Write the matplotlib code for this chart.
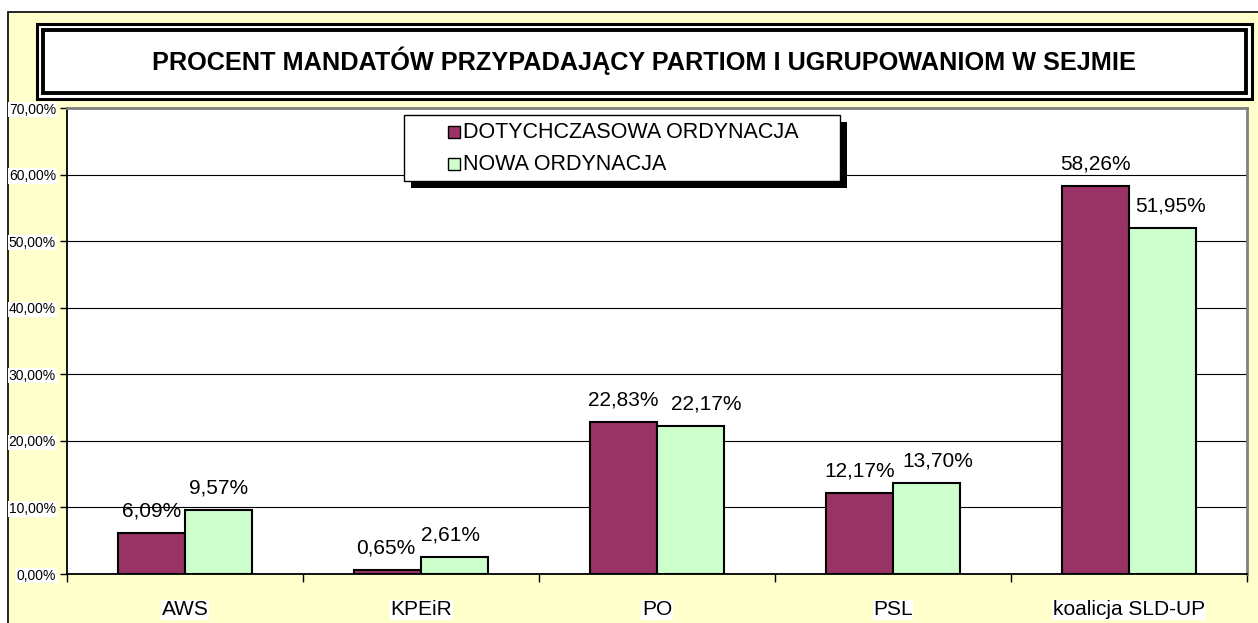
import matplotlib
matplotlib.use("Agg")
import matplotlib.pyplot as plt
from matplotlib.patches import Rectangle
from matplotlib.ticker import FuncFormatter, FixedLocator
import numpy as np

plt.rcParams['font.family'] = ['Liberation Sans', 'DejaVu Sans']

categories = ["AWS", "KPEiR", "PO", "PSL", "koalicja SLD-UP"]
series_names = ["DOTYCHCZASOWA ORDYNACJA", "NOWA ORDYNACJA"]
old_values = [6.09, 0.65, 22.83, 12.17, 58.26]
new_values = [9.57, 2.61, 22.17, 13.70, 51.95]
title = "PROCENT MANDATÓW PRZYPADAJĄCY PARTIOM I UGRUPOWANIOM W SEJMIE"

# horizontal nudges (pixels) of the value labels, as placed in the original
old_label_dx = [0, -2, 0, 0, 0]
new_label_dx = [0, -4, 16, 11, 8]

W, H = 1258, 623
fig = plt.figure(figsize=(W / 100, H / 100), dpi=100)
fig.patch.set_facecolor("white")

def fx(px):
    return px / W

def fy(py):
    return 1 - py / H

def frect(x0, y0, x1, y1, **kw):
    return Rectangle((fx(x0), fy(y1)), fx(x1) - fx(x0), fy(y0) - fy(y1),
                     transform=fig.transFigure, **kw)

# outer chart area
fig.patches.append(frect(8, 12, 1270, 640, facecolor="#FFFFCC",
                         edgecolor="black", linewidth=1.2, zorder=-3))
# title box, double border
fig.patches.append(frect(37, 24, 1252, 99, facecolor="white",
                         edgecolor="black", linewidth=2.2, zorder=-2))
fig.patches.append(frect(43, 30, 1246, 93, facecolor="white",
                         edgecolor="black", linewidth=2.8, zorder=-1))
fig.text(fx(644), fy(61), title, ha="center", va="center", fontsize=18.2,
         fontweight="bold", zorder=2)

ax = fig.add_axes([fx(67), fy(574), fx(1247) - fx(67), fy(108) - fy(574)])
ax.set_facecolor("white")

x = np.arange(len(categories))
w = 0.284
purple = "#993366"
green = "#CCFFCC"
colors = [purple, green]
b1 = ax.bar(x - w / 2, old_values, w, color=purple, edgecolor="black", linewidth=1.5,
            label=series_names[0], zorder=3)
b2 = ax.bar(x + w / 2, new_values, w, color=green, edgecolor="black", linewidth=1.5,
            label=series_names[1], zorder=3)

for bars, vals, dxs in ((b1, old_values, old_label_dx), (b2, new_values, new_label_dx)):
    for rect, v, dx in zip(bars, vals, dxs):
        ax.annotate(f"{v:.2f}".replace(".", ",") + "%",
                    (rect.get_x() + rect.get_width() / 2, v),
                    xytext=(dx * 0.72, 9), textcoords="offset points",
                    ha="center", va="bottom", fontsize=15, zorder=4)

ax.set_xlim(-0.5, len(categories) - 0.5)
ax.set_ylim(0, 70)
ax.set_yticks(np.arange(0, 71, 10))
ax.yaxis.set_major_formatter(FuncFormatter(lambda v, p: f"{v:.2f}".replace(".", ",") + "%"))
ax.grid(axis="y", color="black", linewidth=0.8, zorder=0)
ax.set_axisbelow(True)

ax.set_xticks(x)
ax.set_xticklabels(categories, fontsize=15)
ax.xaxis.set_minor_locator(FixedLocator(np.arange(-0.5, len(categories), 1.0)))
ax.tick_params(axis="x", which="major", length=0, pad=19)
ax.tick_params(axis="x", which="minor", length=6, width=1, direction="out")
ax.tick_params(axis="y", length=5, width=1, labelsize=10, pad=3)
for lbl in ax.get_yticklabels():
    lbl.set_bbox(dict(facecolor="white", edgecolor="none", pad=0.5))
for lbl in ax.get_xticklabels():
    lbl.set_bbox(dict(facecolor="white", edgecolor="none", pad=0.5))

for s in ("left", "bottom"):
    ax.spines[s].set_color("black")
    ax.spines[s].set_linewidth(1.3)
for s in ("top", "right"):
    ax.spines[s].set_color("#808080")
    ax.spines[s].set_linewidth(2)

# legend drawn as a framed box with shadow
leg_shadow = frect(411, 122, 847, 188, facecolor="black", edgecolor="none", zorder=5)
leg_box = frect(404, 115, 840, 181, facecolor="white", edgecolor="black",
                linewidth=1, zorder=6)
fig.patches.extend([leg_shadow, leg_box])
row_y = [132, 164]
for name, col, ry in zip(series_names, colors, row_y):
    fig.patches.append(frect(448, ry - 6, 460, ry + 6, facecolor=col,
                             edgecolor="black", linewidth=1, zorder=7))
    fig.text(fx(463), fy(ry), name, ha="left", va="center", fontsize=15.5, zorder=8)

fig.savefig("out.png", dpi=100)
